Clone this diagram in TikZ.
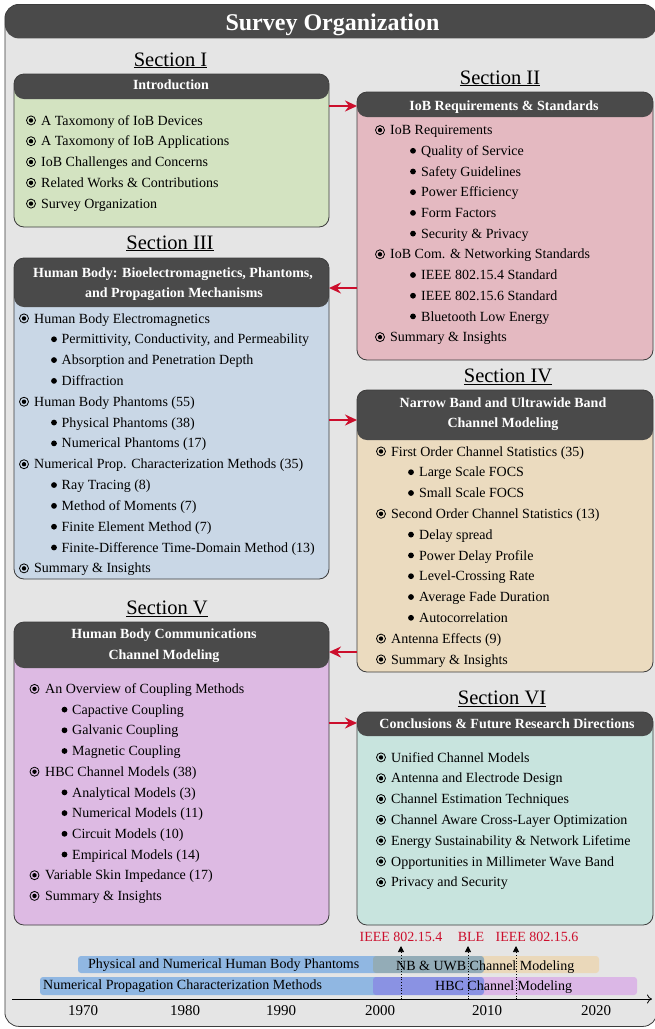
\documentclass[tikz,border=0pt]{standalone}
\usepackage{fontspec}
\setmainfont{Liberation Serif}
\usetikzlibrary{arrows.meta}

\definecolor{pagebg}{RGB}{229,229,229}
\definecolor{hdrgray}{RGB}{74,74,74}
\definecolor{edgegray}{RGB}{60,60,60}
\definecolor{bodygreen}{RGB}{211,227,193}
\definecolor{bodypink}{RGB}{228,185,193}
\definecolor{bodyblue}{RGB}{201,215,230}
\definecolor{bodytan}{RGB}{235,219,191}
\definecolor{bodypurple}{RGB}{221,186,227}
\definecolor{bodyteal}{RGB}{200,228,222}
\definecolor{linkred}{RGB}{204,14,44}
\definecolor{barblue}{RGB}{161,204,252}
\definecolor{bartan}{RGB}{234,216,186}
\definecolor{barpurple}{RGB}{219,183,230}

\tikzset{
  secbox/.style={draw=edgegray, line width=0.8pt, rounded corners=10pt,
    anchor=north west, inner sep=0pt, outer sep=0pt},
  hdrtext/.style={text=white, anchor=base, inner sep=0pt,
    font=\bfseries\fontsize{14}{17}\selectfont},
  itemtext/.style={anchor=base west, inner sep=0pt,
    font=\fontsize{14}{17}\selectfont},
  sectitle/.style={anchor=base, inner sep=0pt,
    font=\fontsize{20.5}{24}\selectfont},
  ringmark/.style={draw=black, line width=0.8pt},
  link/.style={draw=linkred, line width=2.5pt,
    -{Stealth[length=12pt,width=11pt,inset=4pt]}},
  bar/.style={rounded corners=3pt},
  bartext/.style={anchor=base west, inner sep=0pt,
    font=\fontsize{14}{17}\selectfont},
  stdlabel/.style={anchor=base, inner sep=0pt, text=linkred,
    font=\fontsize{14}{17}\selectfont},
  yearlabel/.style={anchor=base, inner sep=0pt,
    font=\fontsize{15}{18}\selectfont},
  stdmark/.style={dotted, line width=0.7pt,
    -{Triangle[length=6pt,width=6pt]}},
}

% section box: name, left, top, width, height, header height, body colour
\newcommand\secbox[7]{%
  \node[secbox, fill=#7, minimum width=#4pt, minimum height=#5pt,
    path picture={\fill[hdrgray] (path picture bounding box.north west)
      rectangle ([yshift=-#6pt]path picture bounding box.north east);}]
    (#1) at (#2,#3) {};}

% item list: name, ring x, text x, dot x, sub-text x, first baseline, step, items
\newcommand\itemlist[8]{%
  \foreach \lv/\txt [count=\k] in {#8} {
    \pgfmathsetmacro\yb{#6+(\k-1)*#7}
    \ifnum\lv=1
      \node[itemtext] (#1-\k) at (#3,\yb) {\txt};
      \draw[ringmark] (#2,\yb-4.6) circle[radius=4.5pt];
      \fill (#2,\yb-4.6) circle[radius=2.2pt];
    \else
      \node[itemtext] (#1-\k) at (#5,\yb) {\txt};
      \fill (#4,\yb-4.6) circle[radius=2.9pt];
    \fi
  }}

\begin{document}
\begin{tikzpicture}[x=1pt,y=-1pt]
\useasboundingbox (0,0) rectangle (654,1029);

% outer frame with its title bar
\node[draw=edgegray, line width=0.8pt, fill=pagebg, rounded corners=14pt,
  anchor=north west, inner sep=0pt, minimum width=652pt, minimum height=1022pt,
  path picture={\fill[hdrgray] (path picture bounding box.north west)
    rectangle ([yshift=-34pt]path picture bounding box.north east);}]
  (frame) at (4.5,4) {};
\node[anchor=base, inner sep=0pt, text=white,
  font=\bfseries\fontsize{24}{28}\selectfont] (title) at (332.5,30) {Survey Organization};

% section titles
\node[sectitle] (t1) at (170.5,66) {\underline{Section I}};
\node[sectitle] (t2) at (500,84) {\underline{Section II}};
\node[sectitle] (t3) at (170,249) {\underline{Section III}};
\node[sectitle] (t4) at (508,382) {\underline{Section IV}};
\node[sectitle] (t5) at (167,614) {\underline{Section V}};
\node[sectitle] (t6) at (502,704) {\underline{Section VI}};

% section boxes
\secbox{s1}{14}{74}{315}{153}{25}{bodygreen}
\secbox{s2}{357}{92}{296}{268}{25}{bodypink}
\secbox{s3}{14}{258}{315}{321}{49}{bodyblue}
\secbox{s4}{357}{390}{296}{282}{50}{bodytan}
\secbox{s5}{14}{622}{315}{303}{46}{bodypurple}
\secbox{s6}{357}{712}{296}{213}{24}{bodyteal}

% box headings
\node[hdrtext] (h1) at (171,89.5) {Introduction};
\node[hdrtext] (h2) at (504,110) {IoB Requirements \& Standards};
\node[hdrtext] (h3a) at (173,277) {Human Body: Bioelectromagnetics, Phantoms,};
\node[hdrtext] (h3b) at (174,297.5) {and Propagation Mechanisms};
\node[hdrtext] (h4a) at (503,407) {Narrow Band and Ultrawide Band};
\node[hdrtext] (h4b) at (503,427.5) {Channel Modeling};
\node[hdrtext] (h5a) at (164,638.5) {Human Body Communications};
\node[hdrtext] (h5b) at (164,659) {Channel Modeling};
\node[hdrtext] (h6) at (507,728) {Conclusions \& Future Research Directions};

% box contents
\itemlist{i1}{31}{41}{0}{0}{125}{20.8}{
  1/{A Taxomony of IoB Devices},
  1/{A Taxomony of IoB Applications},
  1/{IoB Challenges and Concerns},
  1/{Related Works \& Contributions},
  1/{Survey Organization}}

\itemlist{i2}{380}{390}{413}{421}{134.7}{20.7}{
  1/{IoB Requirements},
  2/{Quality of Service},
  2/{Safety Guidelines},
  2/{Power Efficiency},
  2/{Form Factors},
  2/{Security \& Privacy},
  1/{IoB Com. \& Networking Standards},
  2/{IEEE 802.15.4 Standard},
  2/{IEEE 802.15.6 Standard},
  2/{Bluetooth Low Energy},
  1/{Summary \& Insights}}

\itemlist{i3}{24}{34}{54}{61.5}{323}{20.83}{
  1/{Human Body Electromagnetics},
  2/{Permittivity, Conductivity, and Permeability},
  2/{Absorption and Penetration Depth},
  2/{Diffraction},
  1/{Human Body Phantoms (55)},
  2/{Physical Phantoms (38)},
  2/{Numerical Phantoms (17)},
  1/{Numerical Prop. Characterization Methods (35)},
  2/{Ray Tracing (8)},
  2/{Method of Moments (7)},
  2/{Finite Element Method (7)},
  2/{Finite-Difference Time-Domain Method (13)},
  1/{Summary \& Insights}}

\itemlist{i4}{381}{391}{411}{419}{456}{20.8}{
  1/{First Order Channel Statistics (35)},
  2/{Large Scale FOCS},
  2/{Small Scale FOCS},
  1/{Second Order Channel Statistics (13)},
  2/{Delay spread},
  2/{Power Delay Profile},
  2/{Level-Crossing Rate},
  2/{Average Fade Duration},
  2/{Autocorrelation},
  1/{Antenna Effects (9)},
  1/{Summary \& Insights}}

\itemlist{i5}{34.5}{45}{64.5}{72}{693.5}{20.7}{
  1/{An Overview of Coupling Methods},
  2/{Capactive Coupling},
  2/{Galvanic Coupling},
  2/{Magnetic Coupling},
  1/{HBC Channel Models (38)},
  2/{Analytical Models (3)},
  2/{Numerical Models (11)},
  2/{Circuit Models (10)},
  2/{Empirical Models (14)},
  1/{Variable Skin Impedance (17)},
  1/{Summary \& Insights}}

\itemlist{i6}{381}{391}{0}{0}{762}{20.8}{
  1/{Unified Channel Models},
  1/{Antenna and Electrode Design},
  1/{Channel Estimation Techniques},
  1/{Channel Aware Cross-Layer Optimization},
  1/{Energy Sustainability \& Network Lifetime},
  1/{Opportunities in Millimeter Wave Band},
  1/{Privacy and Security}}

% reading order between sections
\coordinate (r1) at (0,106);
\coordinate (r2) at (0,288);
\coordinate (r3) at (0,420);
\coordinate (r4) at (0,652);
\coordinate (r5) at (0,723);
\draw[link] (s1.east |- r1) -- (s2.west |- r1);
\draw[link] (s2.west |- r2) -- (s3.east |- r2);
\draw[link] (s3.east |- r3) -- (s4.west |- r3);
\draw[link] (s4.west |- r4) -- (s5.east |- r4);
\draw[link] (s5.east |- r5) -- (s6.west |- r5);

% timeline bars
\fill[bar, bartan] (373,956) rectangle (599,973);
\fill[bar, barpurple] (373,977) rectangle (637,995);
\begin{scope}[blend mode=multiply]
  \fill[bar, barblue] (78,956) rectangle (484,973);
  \fill[bar, barblue] (40,977) rectangle (484,995);
\end{scope}
\node[bartext] (b1) at (88,968) {Physical and Numerical Human Body Phantoms};
\node[bartext] (b2) at (43,989) {Numerical Propagation Characterization Methods};
\node[bartext] (b3) at (396,970) {NB \& UWB Channel Modeling};
\node[bartext] (b4) at (435,990) {HBC Channel Modeling};

% time axis
\coordinate (ax0) at (12,999);
\coordinate (ax1) at (652,999);
\draw[line width=0.8pt, -{To[length=5pt,width=9pt]}] (ax0) -- (ax1);
\node[yearlabel] (y1970) at (83,1015) {1970};
\node[yearlabel] (y1980) at (185,1015) {1980};
\node[yearlabel] (y1990) at (281,1015) {1990};
\node[yearlabel] (y2000) at (380,1015) {2000};
\node[yearlabel] (y2010) at (487,1015) {2010};
\node[yearlabel] (y2020) at (596,1015) {2020};

% standard release markers
\coordinate (m1a) at (401,999); \coordinate (m1b) at (401,946);
\coordinate (m2a) at (468,999); \coordinate (m2b) at (468,946);
\coordinate (m3a) at (516,999); \coordinate (m3b) at (516,946);
\draw[stdmark] (m1a) -- (m1b);
\draw[stdmark] (m2a) -- (m2b);
\draw[stdmark] (m3a) -- (m3b);
\node[stdlabel] (l1) at (401,941) {IEEE 802.15.4};
\node[stdlabel] (l2) at (471,941) {BLE};
\node[stdlabel] (l3) at (537,941) {IEEE 802.15.6};
\end{tikzpicture}
\end{document}
